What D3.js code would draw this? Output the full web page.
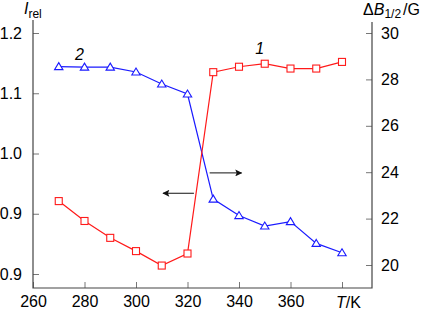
<!DOCTYPE html>
<html>
<head>
<meta charset="utf-8">
<script src="https://cdn.jsdelivr.net/npm/d3@7"></script>
<style>
  body { margin: 0; background: #fff; }
  svg { display: block; font-family: "Liberation Sans", Arial, sans-serif; }
</style>
</head>
<body>
<div class="graph"></div>
<script>
// Data
var temps = [270, 280, 290, 300, 310, 320, 330, 340, 350, 360, 370, 380];
var irel = [0.921, 0.888, 0.860, 0.838, 0.814, 0.834, 1.135, 1.144, 1.149, 1.141, 1.141, 1.152];   // curve 1, left axis
var dB = [28.55, 28.53, 28.53, 28.32, 27.80, 27.37, 22.84, 22.13, 21.68, 21.87, 20.93, 20.53];      // curve 2, right axis

var xTicks = [260, 280, 300, 320, 340, 360, 380];
var xTickLabels = ["260", "280", "300", "320", "340", "360", ""];
var leftTicks = [0.8, 0.9, 1.0, 1.1, 1.2];
var leftTickLabels = ["0.9", "0.9", "1.0", "1.1", "1.2"];
var rightTicks = [20, 22, 24, 26, 28, 30];

// arrows: [x1, x2, y] in data units
var arrowLeft = [322.5, 310.5, 0.934];
var arrowRight = [328.6, 341, 23.97];

// Configuration
var width = 421, height = 311;
var red = "#ff1a1a", blue = "#1a1aff";
var axisColour = "#444", tickColour = "#777";
var left = 33, right = 372, bottom = 288;

var x = d3.scaleLinear().domain([260, 380]).range([left, 342]);
var yL = d3.scaleLinear().domain([0.8, 1.2]).range([274, 33]);
var yR = d3.scaleLinear().domain([20, 30]).range([265, 33]);

var svg = d3.select('.graph').append("svg")
    .attr("width", width)
    .attr("height", height);

svg.append("defs").append("marker")
    .attr("id", "head")
    .attr("viewBox", "0 0 10 10")
    .attr("refX", 9).attr("refY", 5)
    .attr("markerWidth", 10).attr("markerHeight", 7)
    .attr("markerUnits", "userSpaceOnUse")
    .attr("orient", "auto")
    .append("path")
    .attr("d", "M0,0L10,5L0,10L2,5Z")
    .style("fill", "#111");

// Axes
function styleAxis(g) {
    g.select(".domain").remove();
    g.selectAll(".tick line").style("stroke", tickColour);
    g.selectAll(".tick text").style("font-size", "16px").style("fill", "#000")
        .style("font-family", "'Liberation Sans', Arial, sans-serif");
}

svg.append("g")
    .attr("transform", "translate(" + left + ",0)")
    .call(d3.axisLeft(yL).tickValues(leftTicks).tickSize(-6).tickPadding(11)
        .tickFormat(function(d, i) { return leftTickLabels[i]; }))
    .call(styleAxis);

svg.append("g")
    .attr("transform", "translate(" + right + ",0)")
    .call(d3.axisRight(yR).tickValues(rightTicks).tickSize(-6).tickPadding(9)
        .tickFormat(d3.format("d")))
    .call(styleAxis);

svg.append("g")
    .attr("transform", "translate(0," + bottom + ")")
    .call(d3.axisBottom(x).tickValues(xTicks).tickSize(-6).tickPadding(8)
        .tickFormat(function(d, i) { return xTickLabels[i]; }))
    .call(styleAxis);

svg.append("path")
    .attr("d", "M" + left + ",20V" + bottom + "H" + right + "V22")
    .style("fill", "none")
    .style("stroke", axisColour)
    .style("stroke-width", 1.2);

// Axis titles
var t1 = svg.append("text").attr("x", 24).attr("y", 14).style("font-size", "16px");
t1.append("tspan").style("font-style", "italic").text("I");
t1.append("tspan").attr("dy", 4).style("font-size", "12px").text("rel");

var t2 = svg.append("text").attr("x", 420).attr("y", 15)
    .attr("text-anchor", "end").style("font-size", "16px");
t2.append("tspan").text("\u0394");
t2.append("tspan").style("font-style", "italic").text("B");
t2.append("tspan").attr("dy", 3).style("font-size", "12px").text("1/2");
t2.append("tspan").attr("dy", -3).attr("dx", 2).text("/G");

var t3 = svg.append("text").attr("x", x(380) - 6).attr("y", 308).style("font-size", "16px");
t3.append("tspan").style("font-style", "italic").text("T");
t3.append("tspan").text("/K");

// Curve 2 (blue, right axis)
var line2 = d3.line().x(function(d, i) { return x(temps[i]); }).y(function(d) { return yR(d); });
svg.append("path").datum(dB)
    .attr("d", line2)
    .style("fill", "none").style("stroke", blue).style("stroke-width", 1.2);

svg.selectAll(".tri").data(dB).enter().append("path")
    .attr("class", "tri")
    .attr("transform", function(d, i) { return "translate(" + x(temps[i]) + "," + yR(d) + ")"; })
    .attr("d", "M0,-4L4.2,3L-4.2,3Z")
    .style("fill", "#fff").style("stroke", blue).style("stroke-width", 1.1);

// Curve 1 (red, left axis)
var line1 = d3.line().x(function(d, i) { return x(temps[i]); }).y(function(d) { return yL(d); });
svg.append("path").datum(irel)
    .attr("d", line1)
    .style("fill", "none").style("stroke", red).style("stroke-width", 1.2);

svg.selectAll(".sq").data(irel).enter().append("rect")
    .attr("class", "sq")
    .attr("x", function(d, i) { return x(temps[i]) - 3.5; })
    .attr("y", function(d) { return yL(d) - 3.5; })
    .attr("width", 7).attr("height", 7)
    .style("fill", "#fff").style("stroke", red).style("stroke-width", 1.1);

// Arrows
svg.append("line")
    .attr("x1", x(arrowLeft[0])).attr("x2", x(arrowLeft[1]))
    .attr("y1", yL(arrowLeft[2])).attr("y2", yL(arrowLeft[2]))
    .style("stroke", "#111").style("stroke-width", 1)
    .attr("marker-end", "url(#head)");
svg.append("line")
    .attr("x1", x(arrowRight[0])).attr("x2", x(arrowRight[1]))
    .attr("y1", yR(arrowRight[2])).attr("y2", yR(arrowRight[2]))
    .style("stroke", "#111").style("stroke-width", 1)
    .attr("marker-end", "url(#head)");

// Curve labels
svg.append("text").attr("x", x(278)).attr("y", 60)
    .attr("text-anchor", "middle").style("font-size", "16px").style("font-style", "italic").text("2");
svg.append("text").attr("x", x(348)).attr("y", 54)
    .attr("text-anchor", "middle").style("font-size", "16px").style("font-style", "italic").text("1");
</script>
</body>
</html>
